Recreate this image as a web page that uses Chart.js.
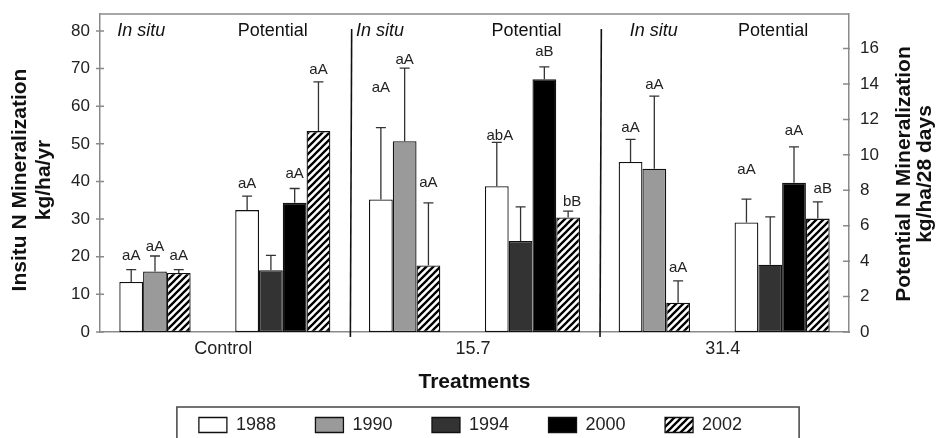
<!DOCTYPE html>
<html><head><meta charset="utf-8">
<script src="https://cdn.jsdelivr.net/npm/chart.js@4"></script>
<style>html,body{margin:0;padding:0;background:#fff;}</style>
</head><body>
<canvas id="c" width="941" height="438"></canvas>
<script>
// ---------------- DATA ----------------
const treatments = ['Control', '15.7', '31.4'];
const years = ['1988', '1990', '1994', '2000', '2002'];
const insituTicks = [0, 10, 20, 30, 40, 50, 60, 70, 80];
const potentialTicks = [0, 2, 4, 6, 8, 10, 12, 14, 16];

// In situ N mineralization (kg/ha/yr), left axis
const insitu1988 = [13.3, 35.2, 45.2];
const insitu1990 = [16.1, 50.7, 43.4];
const insitu2002 = [15.7, 17.7, 7.8];
const insituErr1988 = [3.3, 19.1, 6.0];
const insituErr1990 = [4.1, 19.4, 19.3];
const insituErr2002 = [0.9, 16.6, 5.8];
const insituSig1988 = ['aA', 'aA', 'aA'];
const insituSig1990 = ['aA', 'aA', 'aA'];
const insituSig2002 = ['aA', 'aA', 'aA'];

// Potential N mineralization (kg/ha/28 days), right axis
const potential1988 = [6.88, 8.23, 6.18];
const potential1994 = [3.49, 5.14, 3.80];
const potential2000 = [7.29, 14.26, 8.42];
const potential2002 = [11.34, 6.46, 6.40];
const potentialErr1988 = [0.79, 2.47, 1.32];
const potentialErr1994 = [0.83, 1.92, 2.70];
const potentialErr2000 = [0.81, 0.71, 2.03];
const potentialErr2002 = [2.78, 0.36, 0.94];
const potentialSig1988 = ['aA', 'abA', 'aA'];
const potentialSig1994 = ['', '', ''];
const potentialSig2000 = ['aA', 'aB', 'aA'];
const potentialSig2002 = ['aA', 'bB', 'aB'];

// ---------------- LAYOUT / STYLE ----------------
const FONT = "'Liberation Sans', Arial, Helvetica, sans-serif";
const FRAME = '#8a8a8a';
const SLOTS = 84;          // fine category slots per treatment
const LABEL_SLOT = 41;     // slot carrying treatment tick label
const BAR_SLOTS = 8;       // bar width in slots
const lift = {             // pixel gap from error cap to letter centre
  is1988: [14, 40, 11], is1990: [9, 8, 11], is2002: [14, 20, 13],
  p1988: [12, 7, 29], p1994: [0, 0, 0], p2000: [15, 15, 16], p2002: [12, 9, 13]
};
const shift = { p1988: [0, 3, 0], p2002: [0, 4, 5] };
const inSituDx = [-2, -13, 11];
const potDx = [-10, -6, -9];

const ctx0 = document.getElementById('c').getContext('2d');
function hatch() {
  const s = 7, c = document.createElement('canvas');
  c.width = s; c.height = s;
  const x = c.getContext('2d');
  x.fillStyle = '#fff'; x.fillRect(0, 0, s, s);
  x.strokeStyle = '#000'; x.lineWidth = 2.3; x.lineCap = 'square';
  x.beginPath();
  x.moveTo(0, s); x.lineTo(s, 0);
  x.moveTo(-2, 2); x.lineTo(2, -2);
  x.moveTo(s - 2, s + 2); x.lineTo(s + 2, s - 2);
  x.stroke();
  return ctx0.createPattern(c, 'repeat');
}
const HATCH = hatch();

const xLabels = [];
for (let g = 0; g < treatments.length; g++)
  for (let s = 0; s < SLOTS; s++) xLabels.push(s === LABEL_SLOT ? treatments[g] : '');

function spread(values, slot) {
  const arr = new Array(treatments.length * SLOTS).fill(null);
  values.forEach((v, g) => { arr[g * SLOTS + slot] = v; });
  return arr;
}
function ds(key, label, values, err, sig, slot, axis, fill) {
  return {
    key, label, data: spread(values, slot), err, sig, slot, yAxisID: axis,
    backgroundColor: fill, borderColor: '#111', borderWidth: 1.3, borderSkipped: false,
    grouped: false, barPercentage: BAR_SLOTS, categoryPercentage: 1
  };
}
const datasets = [
  ds('is1988', years[0], insitu1988, insituErr1988, insituSig1988, 10, 'y', '#ffffff'),
  ds('is1990', years[1], insitu1990, insituErr1990, insituSig1990, 18, 'y', '#9a9a9a'),
  ds('p1994', years[2], potential1994, potentialErr1994, potentialSig1994, 57, 'y1', '#333333'),
  ds('p2000', years[3], potential2000, potentialErr2000, potentialSig2000, 65, 'y1', '#000000'),
  ds('is2002', years[4], insitu2002, insituErr2002, insituSig2002, 26, 'y', HATCH),
  ds('p1988', years[0], potential1988, potentialErr1988, potentialSig1988, 49, 'y1', '#ffffff'),
  ds('p2002', years[4], potential2002, potentialErr2002, potentialSig2002, 73, 'y1', HATCH)
];

const deco = {
  id: 'deco',
  afterDatasetsDraw(chart) {
    const c = chart.ctx, a = chart.chartArea, xs = chart.scales.x;
    const u = (a.right - a.left) / (treatments.length * SLOTS);
    c.save();
    // error bars + letters
    chart.data.datasets.forEach((d, i) => {
      const meta = chart.getDatasetMeta(i), ys = chart.scales[d.yAxisID];
      treatments.forEach((t, g) => {
        const idx = g * SLOTS + d.slot, v = d.data[idx];
        if (v == null) return;
        const el = meta.data[idx];
        const top = ys.getPixelForValue(v + d.err[g]);
        c.strokeStyle = '#333'; c.lineWidth = 1.3;
        c.beginPath();
        c.moveTo(el.x, el.y); c.lineTo(el.x, top);
        c.moveTo(el.x - 5, top); c.lineTo(el.x + 5, top);
        c.stroke();
        if (d.sig[g]) {
          c.fillStyle = '#222'; c.font = '15px ' + FONT;
          c.textAlign = 'center'; c.textBaseline = 'middle';
          const dx = shift[d.key] ? shift[d.key][g] : 0;
          c.fillText(d.sig[g], el.x + dx, top - lift[d.key][g]);
        }
      });
    });
    // top frame line
    c.strokeStyle = FRAME; c.lineWidth = 1.5;
    c.beginPath(); c.moveTo(a.left, a.top); c.lineTo(a.right, a.top); c.stroke();
    // tick marks
    const yl = chart.scales.y, yr = chart.scales.y1;
    c.beginPath();
    insituTicks.forEach(v => { const p = yl.getPixelForValue(v); c.moveTo(a.left - 4, p); c.lineTo(a.left + 4, p); });
    potentialTicks.forEach(v => { const p = yr.getPixelForValue(v); c.moveTo(a.right - 6, p); c.lineTo(a.right + 1, p); });
    c.stroke();
    // separators
    c.strokeStyle = '#111'; c.lineWidth = 1.6;
    for (let g = 1; g < treatments.length; g++) {
      const xb = a.left + g * SLOTS * u + 1.5;
      c.beginPath(); c.moveTo(xb + 0.5, a.top + 15); c.lineTo(xb - 0.8, a.bottom + 5); c.stroke();
    }
    // In situ / Potential headers
    c.fillStyle = '#111'; c.textBaseline = 'middle';
    treatments.forEach((t, g) => {
      const first = xs.getPixelForValue(g * SLOTS + 10) - BAR_SLOTS * u / 2;
      c.font = 'italic 18px ' + FONT; c.textAlign = 'left';
      c.fillText('In situ', first + inSituDx[g], a.top + 17);
      const pc = (xs.getPixelForValue(g * SLOTS + 49) + xs.getPixelForValue(g * SLOTS + 73)) / 2;
      c.font = '18px ' + FONT; c.textAlign = 'center';
      c.fillText('Potential', pc + potDx[g], a.top + 17);
    });
    c.restore();
  },
  afterDraw(chart) {
    const c = chart.ctx;
    c.save();
    // y axis titles (rotated, bottom-to-top)
    c.fillStyle = '#111'; c.font = 'bold 21px ' + FONT;
    c.textAlign = 'center'; c.textBaseline = 'alphabetic';
    const drawRot = (txt, x, y) => { c.save(); c.translate(x, y); c.rotate(-Math.PI / 2); c.fillText(txt, 0, 0); c.restore(); };
    drawRot('Insitu N Mineralization', 26, 180);
    drawRot('kg/ha/yr', 50, 180);
    drawRot('Potential N Mineralization', 910, 174);
    drawRot('kg/ha/28 days', 931, 174);
    // legend frame
    const hb = chart.legend.legendHitBoxes;
    if (hb && hb.length) {
      const l = hb[0].left - 22, r = hb[hb.length - 1].left + hb[hb.length - 1].width + 57;
      const t = hb[0].top - 9;
      c.strokeStyle = '#444'; c.lineWidth = 1.5;
      c.strokeRect(l, t, r - l, 60);
    }
    c.restore();
  }
};

const noPad = (s) => { s.paddingTop = 0; s.paddingBottom = 0; };

new Chart(ctx0, {
  type: 'bar',
  data: { labels: xLabels, datasets },
  options: {
    responsive: false, animation: false,
    layout: { padding: { top: 14, bottom: -6, left: 0, right: 0 } },
    plugins: {
      legend: {
        position: 'bottom',
        labels: {
          boxWidth: 28, boxHeight: 15, padding: 39.5, color: '#222',
          font: { family: FONT, size: 18 },
          filter: (it) => it.datasetIndex < 5
        }
      },
      tooltip: { enabled: false }
    },
    scales: {
      x: {
        type: 'category',
        grid: { display: false, drawTicks: false },
        border: { display: true, color: FRAME, width: 1.5 },
        ticks: { autoSkip: false, maxRotation: 0, minRotation: 0, padding: 6, color: '#222', font: { family: FONT, size: 18 } },
        title: { display: true, text: 'Treatments', color: '#111', font: { family: FONT, size: 21, weight: 'bold' }, padding: { top: 0, bottom: -18 } },
        afterFit: (s) => { s.height = 44.5; s.paddingLeft = 0; s.paddingRight = 0; }
      },
      y: {
        position: 'left', min: 0, max: 84.5,
        afterBuildTicks: (s) => { s.ticks = insituTicks.map(v => ({ value: v })); },
        grid: { display: false, drawTicks: false },
        border: { display: true, color: FRAME, width: 1.5 },
        ticks: { padding: 10, color: '#222', font: { family: FONT, size: 17 } },
        afterFit: (s) => { s.width = 100; noPad(s); }
      },
      y1: {
        position: 'right', min: 0, max: 17.95,
        afterBuildTicks: (s) => { s.ticks = potentialTicks.map(v => ({ value: v })); },
        grid: { display: false, drawTicks: false },
        border: { display: true, color: FRAME, width: 1.5 },
        ticks: { padding: 11, color: '#222', font: { family: FONT, size: 17 } },
        afterFit: (s) => { s.width = 92; noPad(s); }
      }
    }
  },
  plugins: [deco]
});
</script>
</body></html>
